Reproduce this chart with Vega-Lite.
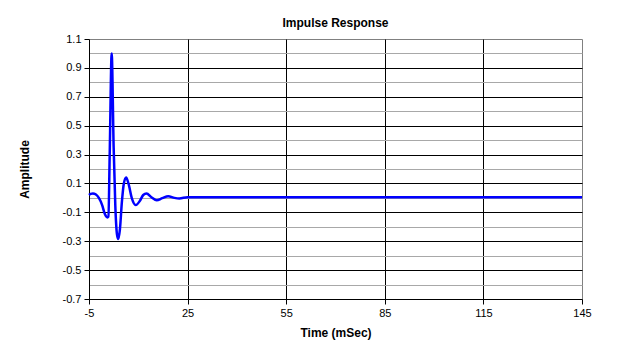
{
  "$schema": "https://vega.github.io/schema/vega-lite/v6.json",
  "width": 493,
  "height": 260,
  "autosize": {"type": "none"},
  "padding": {"left": 89, "top": 39, "right": 55, "bottom": 63},
  "background": "white",
  "title": {"text": "Impulse Response", "font": "Liberation Sans", "fontSize": 12, "fontWeight": "bold", "color": "black", "offset": 3, "anchor": "middle"},
  "config": {
    "view": {"stroke": "#808080", "strokeWidth": 1},
    "axis": {"labelFont": "Liberation Sans", "labelFontSize": 11, "labelColor": "black", "titleFont": "Liberation Sans", "titleFontSize": 12, "titleFontWeight": "bold", "titleColor": "black", "domainColor": "black", "tickColor": "black", "tickSize": 5, "labelFlush": false, "labelOverlap": false}
  },
  "data": {"values": [
    {"t": -5, "v": 0.02}, {"t": -4.5, "v": 0.028}, {"t": -3.8, "v": 0.031}, {"t": -3, "v": 0.025},
    {"t": -2, "v": 0.0}, {"t": -1, "v": -0.05}, {"t": -0.2, "v": -0.11}, {"t": 0.6, "v": -0.135},
    {"t": 0.9, "v": -0.13}, {"t": 1.3, "v": 0.3}, {"t": 1.9, "v": 1.0}, {"t": 2.5, "v": 0.35},
    {"t": 3.0, "v": -0.05}, {"t": 3.5, "v": -0.25}, {"t": 3.9, "v": -0.285}, {"t": 4.4, "v": -0.22},
    {"t": 5.0, "v": -0.03}, {"t": 5.6, "v": 0.1}, {"t": 6.3, "v": 0.142}, {"t": 7.0, "v": 0.1},
    {"t": 8.0, "v": 0.0}, {"t": 9.2, "v": -0.05}, {"t": 10.5, "v": -0.02}, {"t": 11.5, "v": 0.02},
    {"t": 12.5, "v": 0.031}, {"t": 14, "v": 0.005}, {"t": 15.6, "v": -0.016}, {"t": 17.3, "v": -0.002},
    {"t": 19.1, "v": 0.012}, {"t": 21, "v": 0.0}, {"t": 22.5, "v": -0.004}, {"t": 25, "v": 0.005},
    {"t": 30, "v": 0.005}, {"t": 40, "v": 0.004}, {"t": 50, "v": 0.005}, {"t": 60, "v": 0.004},
    {"t": 70, "v": 0.005}, {"t": 80, "v": 0.004}, {"t": 90, "v": 0.005}, {"t": 100, "v": 0.004},
    {"t": 110, "v": 0.005}, {"t": 120, "v": 0.004}, {"t": 130, "v": 0.005}, {"t": 145, "v": 0.005}
  ]},
  "encoding": {
    "x": {"field": "t", "type": "quantitative", "scale": {"domain": [-5, 145], "nice": false, "zero": false}},
    "y": {"field": "v", "type": "quantitative", "scale": {"domain": [-0.7, 1.1], "nice": false, "zero": false}}
  },
  "layer": [
    {
      "mark": {"type": "line", "opacity": 0},
      "encoding": {
        "x": {"field": "t", "type": "quantitative", "axis": {"orient": "bottom", "values": [25, 55, 85, 115], "grid": true, "gridColor": "black", "gridWidth": 1, "labels": false, "ticks": false, "domain": false, "title": null}},
        "y": {"field": "v", "type": "quantitative", "axis": {"orient": "left", "values": [-0.6, -0.4, -0.2, 0, 0.2, 0.4, 0.6, 0.8, 1.0], "grid": true, "gridColor": "#a8a8a8", "gridWidth": 1, "labels": false, "ticks": false, "domain": false, "title": null}}
      }
    },
    {
      "mark": {"type": "line", "opacity": 0},
      "encoding": {
        "x": {"field": "t", "type": "quantitative", "axis": {"orient": "bottom", "values": [-5, 25, 55, 85, 115, 145], "grid": false, "labelPadding": 3, "labelExpr": "replace(datum.label, '\u2212', '-')", "title": "Time (mSec)", "titlePadding": 9}},
        "y": {"field": "v", "type": "quantitative", "axis": {"orient": "left", "values": [-0.5, -0.3, -0.1, 0.1, 0.3, 0.5, 0.7, 0.9], "grid": true, "gridColor": "black", "gridWidth": 1, "labels": false, "ticks": false, "domain": false, "title": null}}
      }
    },
    {
      "mark": {"type": "line", "color": "#0000ff", "strokeWidth": 2.5, "interpolate": "monotone"},
      "encoding": {
        "x": {"field": "t", "type": "quantitative", "axis": null},
        "y": {"field": "v", "type": "quantitative", "axis": {"orient": "left", "values": [-0.7, -0.5, -0.3, -0.1, 0.1, 0.3, 0.5, 0.7, 0.9, 1.1], "format": ".1f", "labelExpr": "replace(datum.label, '\u2212', '-')", "grid": false, "labelPadding": 3, "title": "Amplitude", "titlePadding": 31}}
      }
    }
  ],
  "resolve": {"axis": {"x": "independent", "y": "independent"}}
}
